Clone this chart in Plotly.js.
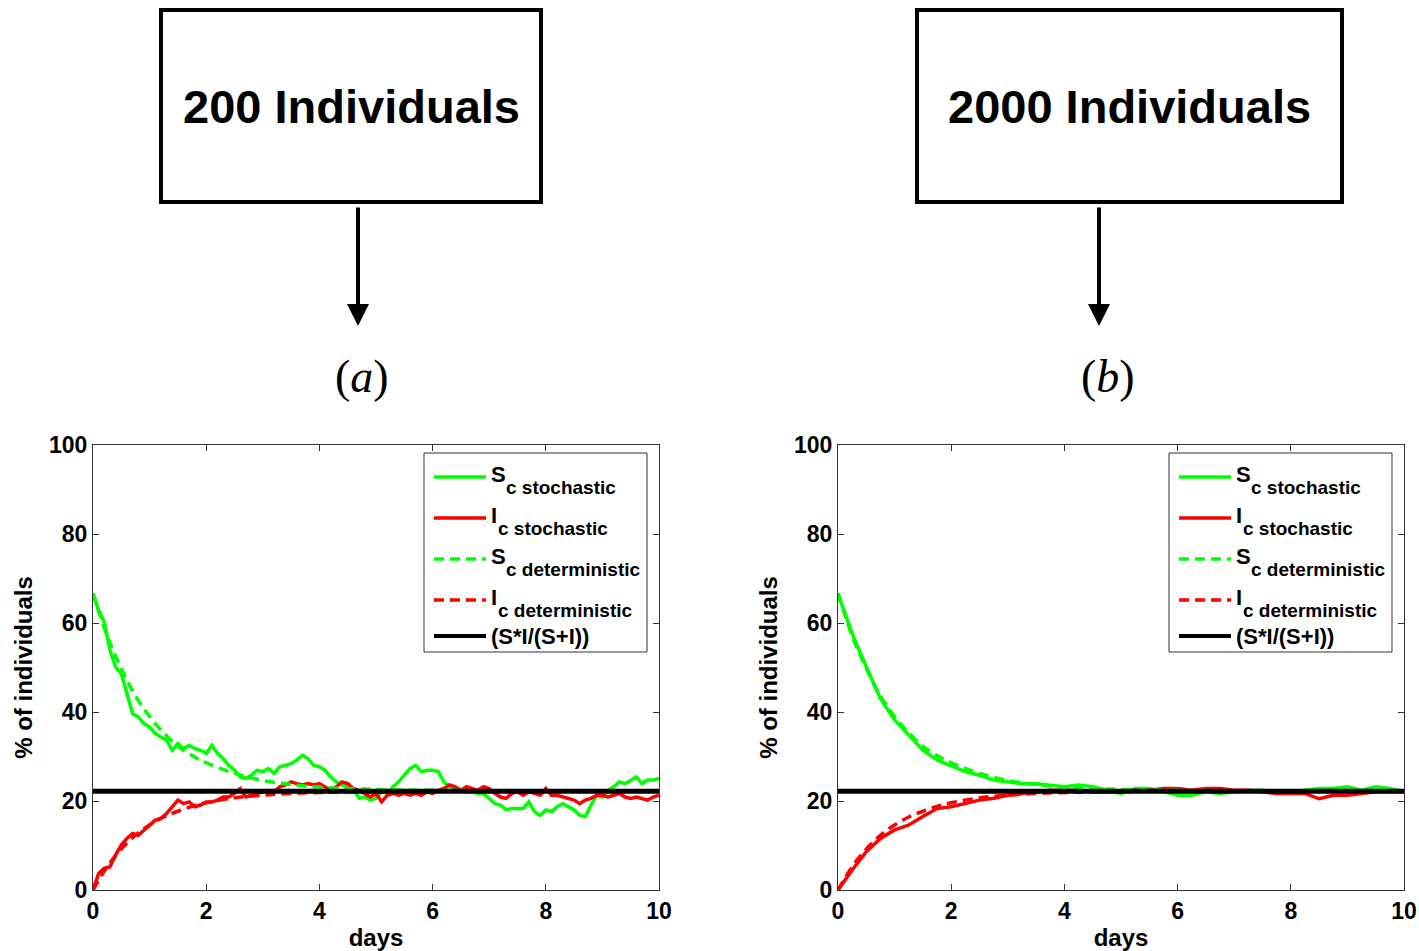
<!DOCTYPE html>
<html>
<head>
<meta charset="utf-8">
<script src="https://cdn.plot.ly/plotly-3.0.1.min.js"></script>
<style>html,body{margin:0;padding:0;background:#fff;}#chart{width:1419px;height:951px;}</style>
</head>
<body>
<div id="chart"></div>
<script>
// ---- data ----
const daysFine = [0,0.1,0.2,0.3,0.4,0.5,0.6,0.7,0.8,0.9,1,1.1,1.2,1.3,1.4,1.5,1.6,1.7,1.8,1.9,2,2.1,2.2,2.3,2.4,2.5,2.6,2.7,2.8,2.9,3,3.1,3.2,3.3,3.4,3.5,3.6,3.7,3.8,3.9,4,4.1,4.2,4.3,4.4,4.5,4.6,4.7,4.8,4.9,5,5.1,5.2,5.3,5.4,5.5,5.6,5.7,5.8,5.9,6,6.1,6.2,6.3,6.4,6.5,6.6,6.7,6.8,6.9,7,7.1,7.2,7.3,7.4,7.5,7.6,7.7,7.8,7.9,8,8.1,8.2,8.3,8.4,8.5,8.6,8.7,8.8,8.9,9,9.1,9.2,9.3,9.4,9.5,9.6,9.7,9.8,9.9,10];
const sStoch200 = [66.6,62.8,60.2,53.9,50.1,48.6,44.1,39.6,38.9,37.4,36.6,35.2,34.4,33.7,31.4,32.9,31.8,32.5,31.8,31.4,30.7,32.5,30.7,29.5,28.0,26.9,25.4,25.1,25.8,26.9,26.6,27.3,26.2,27.7,28.0,28.4,29.2,30.3,29.5,28.0,27.7,26.9,25.4,24.3,23.6,23.2,22.8,20.6,20.9,20.2,20.6,22.1,21.7,23.2,24.3,25.8,27.3,28.0,26.6,26.9,26.9,26.6,24.3,23.2,22.8,22.4,22.1,22.1,21.7,21.7,20.6,19.4,19.1,18.0,18.3,18.3,18.3,19.8,17.6,16.8,18.0,17.6,18.7,19.4,18.7,18.0,16.8,16.5,19.1,21.3,20.9,22.4,23.2,24.3,23.9,24.7,25.4,23.9,24.7,24.7,25.1];
const iStoch200 = [0,3.7,4.9,5.2,7.9,10.1,11.6,12.7,12.3,13.5,14.6,15.7,16.1,17.2,18.7,20.2,19.4,19.8,18.7,19.1,19.8,19.8,20.2,20.9,20.9,21.7,22.8,20.9,21.3,21.7,22.1,22.4,22.1,23.2,23.6,24.3,23.9,23.6,23.9,23.6,23.9,23.2,22.4,23.2,24.3,23.9,22.8,22.4,21.7,20.9,21.7,19.8,21.3,21.7,21.3,21.7,21.3,21.7,21.3,22.1,21.7,22.4,22.8,23.6,23.2,22.4,23.2,22.8,22.4,23.2,22.8,21.7,20.9,20.6,21.7,22.1,21.3,22.1,21.7,21.3,22.8,21.3,21.3,20.9,20.6,20.2,19.4,20.2,20.6,21.3,21.3,20.9,21.3,21.7,20.9,20.6,20.9,20.6,20.2,20.9,21.3];

const daysCoarse = [0,0.25,0.5,0.75,1,1.25,1.5,1.75,2,2.25,2.5,2.75,3,3.25,3.5,3.75,4,4.25,4.5,4.75,5,5.25,5.5,5.75,6,6.25,6.5,6.75,7,7.25,7.5,7.75,8,8.25,8.5,8.75,9,9.25,9.5,9.75,10];
const sStoch2000 = [66.6,57.6,50.2,43.0,38.2,34.8,31.4,29.2,28.0,26.6,25.8,24.7,24.3,23.9,23.9,23.6,23.2,23.6,23.2,22.4,21.7,22.8,22.8,22.1,21.3,21.3,22.1,21.7,22.1,22.4,22.4,22.1,22.1,22.4,22.8,22.8,23.2,22.4,23.2,22.8,22.1];
const iStoch2000 = [0,4.5,8.6,11.6,13.5,14.6,16.5,18.3,18.7,19.4,20.2,20.6,21.3,21.7,22.1,22.4,22.4,22.4,22.1,22.1,22.1,22.4,22.4,22.8,22.8,22.4,22.8,22.8,22.4,22.4,22.1,21.7,21.7,21.7,20.5,21.3,21.3,21.7,22.1,22.1,22.1];

const daysDet = [0,0.25,0.5,0.75,1,1.25,1.5,1.75,2,2.5,3,3.5,4,5,6,7,8,9,10];
const sDet = [66.7,57.1,49.8,43.6,39.0,35.3,32.3,30.2,28.6,26.2,24.6,23.7,23.1,22.6,22.4,22.3,22.2,22.2,22.2];
const iDet = [0,5.2,9.2,12.3,14.6,16.4,17.7,18.8,19.6,20.7,21.3,21.7,21.9,22.1,22.2,22.2,22.2,22.2,22.2];

const eqDays = [0,10];
const eqLevel = [22.2,22.2];

const legendMain = ["S","I","S","I","(S*I/(S+I))"];
const legendSub = ["c stochastic","c stochastic","c deterministic","c deterministic",""];
const panelTitles = ["200 Individuals","2000 Individuals"];
const panelLetters = ["(<i>a</i>)","(<i>b</i>)"];
const xTicks = [0,2,4,6,8,10];
const yTicks = [0,20,40,60,80,100];

// ---- build ----
const W = 1419, H = 951;
const GREEN = '#00ff00', RED = '#ff0000';
const FONT = 'Liberation Sans, Arial, sans-serif';
const DASH = '10px,6px';
const styles = [
  {color:GREEN, width:3.5, dash:'solid'},
  {color:RED, width:3.5, dash:'solid'},
  {color:GREEN, width:3.5, dash:DASH},
  {color:RED, width:3.5, dash:DASH},
  {color:'#000', width:5, dash:'solid'}
];

function panelTraces(xs, ax, sS, iS, dS, dI){
  const base = {mode:'lines', xaxis:'x'+ax, yaxis:'y'+ax, hoverinfo:'skip', showlegend:false};
  const names = legendMain.map((m,i)=> m + (legendSub[i] ? ' ' + legendSub[i] : ''));
  return [
    Object.assign({}, base, {x:xs, y:sS, name:names[0], line:styles[0]}),
    Object.assign({}, base, {x:xs, y:iS, name:names[1], line:styles[1]}),
    Object.assign({}, base, {x:daysDet, y:dS, name:names[2], line:Object.assign({shape:'spline'}, styles[2])}),
    Object.assign({}, base, {x:daysDet, y:dI, name:names[3], line:Object.assign({shape:'spline'}, styles[3])}),
    Object.assign({}, base, {x:eqDays, y:eqLevel, name:names[4], line:styles[4]})
  ];
}

const data = [].concat(
  panelTraces(daysFine, '', sStoch200, iStoch200, sDet, iDet),
  panelTraces(daysCoarse, '2', sStoch2000, iStoch2000, sDet, iDet)
);

const px = x => x / W;
const py = y => 1 - y / H;

function xAxis(d, anchor){
  return {domain:d, range:[0,10], tickvals:xTicks, ticks:'inside', ticklen:6, tickcolor:'#333', anchor:anchor,
    showline:true, mirror:'ticks', linecolor:'#333', linewidth:1, showgrid:false, zeroline:false,
    tickfont:{family:FONT, size:23, color:'#000', weight:'bold'},
    title:{text:'days', font:{family:FONT, size:24, color:'#000', weight:'bold'}, standoff:6}};
}
function yAxis(anchor){
  return {domain:[py(890), py(445)], range:[0,100], tickvals:yTicks, ticks:'inside', ticklen:6, tickcolor:'#333',
    showline:true, mirror:'ticks', linecolor:'#333', linewidth:1, showgrid:false, zeroline:false, anchor:anchor,
    tickfont:{family:FONT, size:23, color:'#000', weight:'bold'},
    title:{text:'% of individuals', font:{family:FONT, size:24, color:'#000', weight:'bold'}, standoff:9}};
}

const shapes = [
  {type:'rect', xref:'paper', yref:'paper', x0:px(161), x1:px(541), y0:py(202), y1:py(10), line:{color:'#000', width:4}},
  {type:'rect', xref:'paper', yref:'paper', x0:px(917), x1:px(1342), y0:py(202), y1:py(10), line:{color:'#000', width:4}}
];

const annotations = [
  {xref:'paper', yref:'paper', x:px(351), y:py(107), xanchor:'center', yanchor:'middle', text:'<b>'+panelTitles[0]+'</b>', showarrow:false, font:{family:FONT, size:47, color:'#000'}},
  {xref:'paper', yref:'paper', x:px(1129), y:py(107), xanchor:'center', yanchor:'middle', text:'<b>'+panelTitles[1]+'</b>', showarrow:false, font:{family:FONT, size:47, color:'#000'}},
  {xref:'paper', yref:'paper', x:px(358), y:py(326), ax:0, ay:-120, text:'', showarrow:true, arrowhead:2, arrowsize:1.1, arrowwidth:4, arrowcolor:'#000'},
  {xref:'paper', yref:'paper', x:px(1099), y:py(326), ax:0, ay:-120, text:'', showarrow:true, arrowhead:2, arrowsize:1.1, arrowwidth:4, arrowcolor:'#000'},
  {xref:'paper', yref:'paper', x:px(362), y:py(376), xanchor:'center', yanchor:'middle', text:panelLetters[0], showarrow:false, font:{family:'Liberation Serif, DejaVu Serif, serif', size:46, color:'#000'}},
  {xref:'paper', yref:'paper', x:px(1108), y:py(376), xanchor:'center', yanchor:'middle', text:panelLetters[1], showarrow:false, font:{family:'Liberation Serif, DejaVu Serif, serif', size:46, color:'#000'}}
];

// custom legend (box, line samples, labels with large subscripts)
function addLegend(left){
  const top = 453, bottom = 652, right = left + 223;
  shapes.push({type:'rect', xref:'paper', yref:'paper', layer:'above', x0:px(left), x1:px(right), y0:py(bottom), y1:py(top),
    line:{color:'#333', width:1}, fillcolor:'#fff'});
  const rowY = [477, 518, 559, 600, 636];
  const mainW = [15, 6.5, 15, 6.5, 0];
  legendMain.forEach((m, i) => {
    const st = styles[i];
    shapes.push({type:'line', xref:'paper', yref:'paper', layer:'above', x0:px(left+10), x1:px(left+62), y0:py(rowY[i]), y1:py(rowY[i]),
      line:{color:st.color, width:i===4?4:3.5, dash:st.dash}});
    const hasSub = legendSub[i] !== '';
    annotations.push({xref:'paper', yref:'paper', x:px(left+65), y:py(hasSub ? rowY[i]-3 : rowY[i]), xanchor:'left', yanchor:'middle',
      text:'<b>'+m+'</b>', showarrow:false, font:{family:FONT, size:22, color:'#000'}});
    if (hasSub) {
      annotations.push({xref:'paper', yref:'paper', x:px(left+65+mainW[i]), y:py(rowY[i]+10), xanchor:'left', yanchor:'middle',
        text:'<b>'+legendSub[i]+'</b>', showarrow:false, font:{family:FONT, size:19, color:'#000'}});
    }
  });
}
addLegend(424);
addLegend(1169);

const layout = {
  width:W, height:H, margin:{l:0,r:0,t:0,b:0}, paper_bgcolor:'#fff', plot_bgcolor:'#fff',
  showlegend:false,
  xaxis: xAxis([px(93), px(659)], 'y'),
  yaxis: yAxis('x'),
  xaxis2: xAxis([px(838), px(1404)], 'y2'),
  yaxis2: yAxis('x2'),
  shapes: shapes,
  annotations: annotations
};

Plotly.newPlot('chart', data, layout, {displayModeBar:false, staticPlot:true});
</script>
</body>
</html>
